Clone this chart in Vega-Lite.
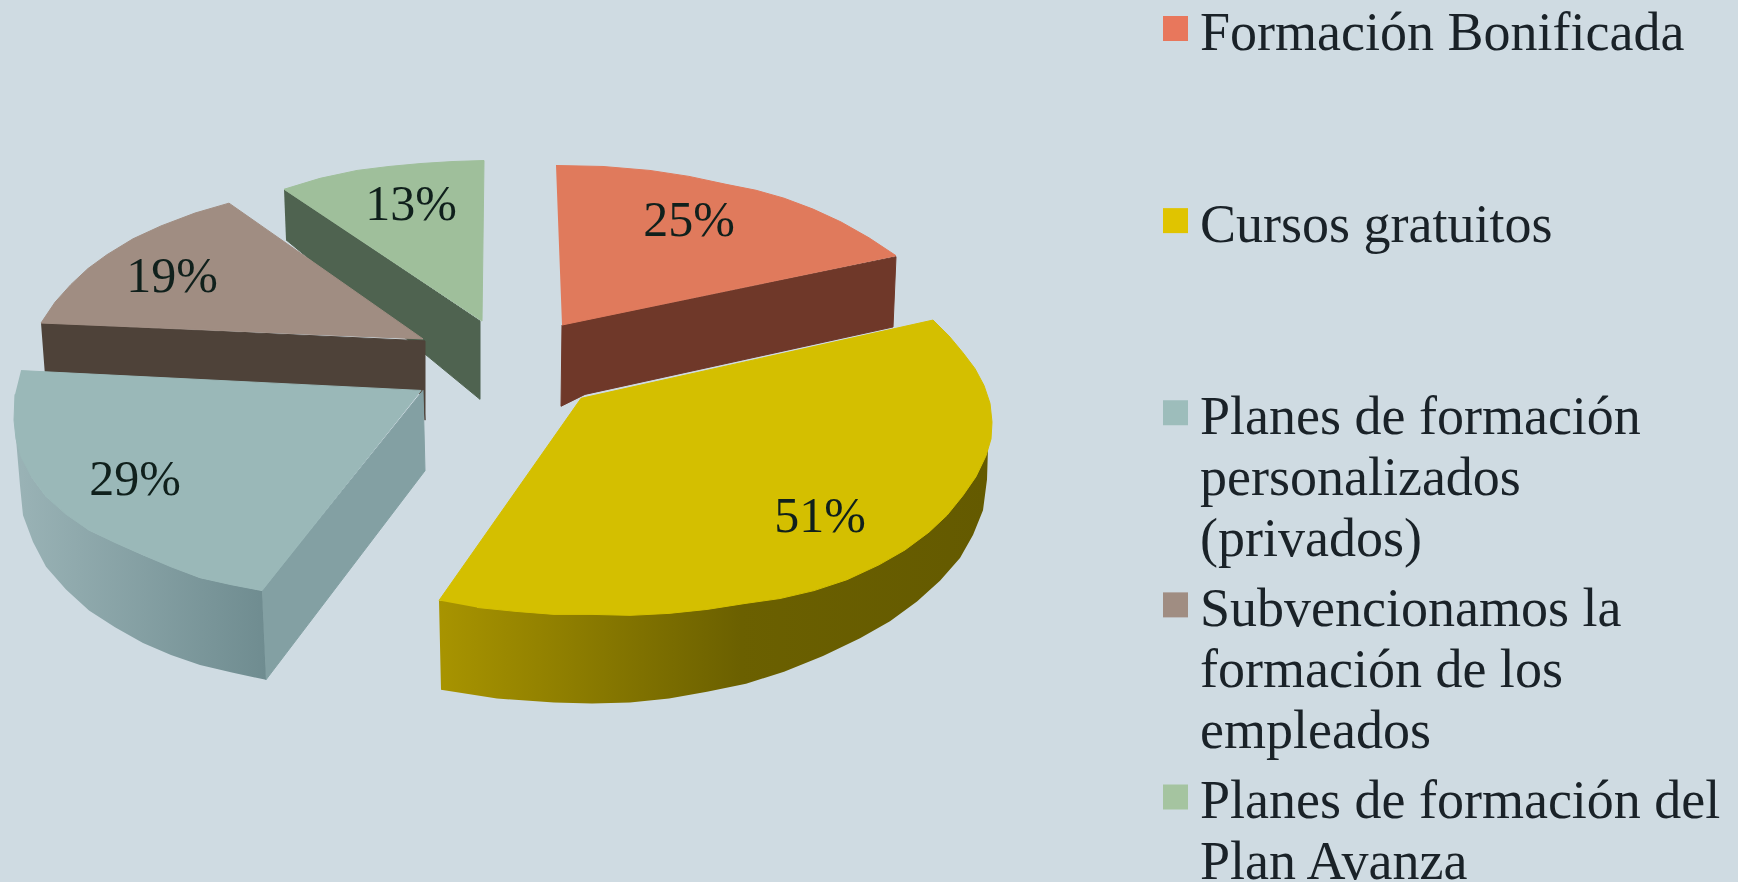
{"$schema":"https://vega.github.io/schema/vega-lite/v6.json","width":1738,"height":882,"autosize":{"type":"fit","contains":"padding"},"padding":0,"background":"#cfdbe2","view":{"stroke":null},"datasets":{"faces":[
{"face":"avanza side","i":0,"x":-216,"y":264},{"face":"avanza side","i":1,"x":-20,"y":131},{"face":"avanza side","i":2,"x":-20,"y":52},{"face":"avanza side","i":3,"x":-214,"y":213},
{"face":"avanza top","i":0,"x":-216,"y":264},{"face":"avanza top","i":1,"x":-180,"y":275},{"face":"avanza top","i":2,"x":-143,"y":283},{"face":"avanza top","i":3,"x":-111,"y":287},{"face":"avanza top","i":4,"x":-79,"y":290},{"face":"avanza top","i":5,"x":-47,"y":292},{"face":"avanza top","i":6,"x":-16,"y":293},{"face":"avanza top","i":7,"x":-18,"y":131},{"face":"avanza top","i":8,"x":-216,"y":264},
{"face":"subv side","i":0,"x":-459,"y":129},{"face":"subv side","i":1,"x":-75,"y":111},{"face":"subv side","i":2,"x":-75,"y":31},{"face":"subv side","i":3,"x":-77,"y":58},{"face":"subv side","i":4,"x":-455,"y":76},
{"face":"subv top","i":0,"x":-459,"y":129},{"face":"subv top","i":1,"x":-445,"y":150},{"face":"subv top","i":2,"x":-429,"y":168},{"face":"subv top","i":3,"x":-412,"y":184},{"face":"subv top","i":4,"x":-393,"y":198},{"face":"subv top","i":5,"x":-367,"y":214},{"face":"subv top","i":6,"x":-339,"y":227},{"face":"subv top","i":7,"x":-305,"y":240},{"face":"subv top","i":8,"x":-271,"y":250},{"face":"subv top","i":9,"x":-77,"y":113},{"face":"subv top","i":10,"x":-459,"y":129},
{"face":"priv right","i":0,"x":-77,"y":61},{"face":"priv right","i":1,"x":-75,"y":-20},{"face":"priv right","i":2,"x":-234,"y":-231},{"face":"priv right","i":3,"x":-238,"y":-141},{"face":"priv right","i":4,"x":-77,"y":61},
{"face":"priv outer","i":0,"x":-484,"y":12},{"face":"priv outer","i":1,"x":-468,"y":-27},{"face":"priv outer","i":2,"x":-454,"y":-46},{"face":"priv outer","i":3,"x":-411,"y":-80},{"face":"priv outer","i":4,"x":-357,"y":-105},{"face":"priv outer","i":5,"x":-300,"y":-128},{"face":"priv outer","i":6,"x":-238,"y":-141},{"face":"priv outer","i":7,"x":-234,"y":-231},{"face":"priv outer","i":8,"x":-267,"y":-224},{"face":"priv outer","i":9,"x":-300,"y":-216},{"face":"priv outer","i":10,"x":-329,"y":-206},{"face":"priv outer","i":11,"x":-357,"y":-194},{"face":"priv outer","i":12,"x":-385,"y":-178},{"face":"priv outer","i":13,"x":-411,"y":-161},{"face":"priv outer","i":14,"x":-434,"y":-140},{"face":"priv outer","i":15,"x":-454,"y":-117},{"face":"priv outer","i":16,"x":-467,"y":-92},{"face":"priv outer","i":17,"x":-477,"y":-65},{"face":"priv outer","i":18,"x":-480,"y":-35},
{"face":"priv top","i":0,"x":-479,"y":81},{"face":"priv top","i":1,"x":-79,"y":61},{"face":"priv top","i":2,"x":-238,"y":-141},{"face":"priv top","i":3,"x":-269,"y":-135},{"face":"priv top","i":4,"x":-300,"y":-128},{"face":"priv top","i":5,"x":-329,"y":-117},{"face":"priv top","i":6,"x":-357,"y":-105},{"face":"priv top","i":7,"x":-384,"y":-93},{"face":"priv top","i":8,"x":-411,"y":-80},{"face":"priv top","i":9,"x":-434,"y":-64},{"face":"priv top","i":10,"x":-454,"y":-46},{"face":"priv top","i":11,"x":-468,"y":-27},{"face":"priv top","i":12,"x":-479,"y":-6},{"face":"priv top","i":13,"x":-484,"y":12},{"face":"priv top","i":14,"x":-486,"y":31},{"face":"priv top","i":15,"x":-485,"y":57},
{"face":"bonif side","i":0,"x":62,"y":127},{"face":"bonif side","i":1,"x":396,"y":196},{"face":"bonif side","i":2,"x":393,"y":125},{"face":"bonif side","i":3,"x":85,"y":57},{"face":"bonif side","i":4,"x":61,"y":45},{"face":"bonif side","i":5,"x":62,"y":127},
{"face":"bonif top","i":0,"x":56,"y":288},{"face":"bonif top","i":1,"x":103,"y":287},{"face":"bonif top","i":2,"x":150,"y":283},{"face":"bonif top","i":3,"x":189,"y":277},{"face":"bonif top","i":4,"x":226,"y":269},{"face":"bonif top","i":5,"x":256,"y":263},{"face":"bonif top","i":6,"x":284,"y":255},{"face":"bonif top","i":7,"x":313,"y":244},{"face":"bonif top","i":8,"x":341,"y":231},{"face":"bonif top","i":9,"x":369,"y":215},{"face":"bonif top","i":10,"x":396,"y":197},{"face":"bonif top","i":11,"x":62,"y":127},
{"face":"gratis side","i":0,"x":-61,"y":-151},{"face":"gratis side","i":1,"x":92,"y":-160},{"face":"gratis side","i":2,"x":245,"y":-150},{"face":"gratis side","i":3,"x":379,"y":-110},{"face":"gratis side","i":4,"x":463,"y":-40},{"face":"gratis side","i":5,"x":488,"y":3},{"face":"gratis side","i":6,"x":487,"y":-29},{"face":"gratis side","i":7,"x":483,"y":-60},{"face":"gratis side","i":8,"x":473,"y":-85},{"face":"gratis side","i":9,"x":460,"y":-108},{"face":"gratis side","i":10,"x":440,"y":-131},{"face":"gratis side","i":11,"x":417,"y":-152},{"face":"gratis side","i":12,"x":390,"y":-172},{"face":"gratis side","i":13,"x":360,"y":-189},{"face":"gratis side","i":14,"x":323,"y":-207},{"face":"gratis side","i":15,"x":284,"y":-223},{"face":"gratis side","i":16,"x":246,"y":-235},{"face":"gratis side","i":17,"x":207,"y":-243},{"face":"gratis side","i":18,"x":169,"y":-250},{"face":"gratis side","i":19,"x":130,"y":-254},{"face":"gratis side","i":20,"x":92,"y":-255},{"face":"gratis side","i":21,"x":54,"y":-254},{"face":"gratis side","i":22,"x":-3,"y":-250},{"face":"gratis side","i":23,"x":-59,"y":-241},
{"face":"gratis top","i":0,"x":-61,"y":-151},{"face":"gratis top","i":1,"x":81,"y":53},{"face":"gratis top","i":2,"x":433,"y":132},{"face":"gratis top","i":3,"x":449,"y":116},{"face":"gratis top","i":4,"x":463,"y":99},{"face":"gratis top","i":5,"x":475,"y":83},{"face":"gratis top","i":6,"x":484,"y":66},{"face":"gratis top","i":7,"x":490,"y":48},{"face":"gratis top","i":8,"x":492,"y":29},{"face":"gratis top","i":9,"x":491,"y":12},{"face":"gratis top","i":10,"x":486,"y":-5},{"face":"gratis top","i":11,"x":476,"y":-26},{"face":"gratis top","i":12,"x":463,"y":-45},{"face":"gratis top","i":13,"x":447,"y":-65},{"face":"gratis top","i":14,"x":429,"y":-82},{"face":"gratis top","i":15,"x":405,"y":-100},{"face":"gratis top","i":16,"x":379,"y":-115},{"face":"gratis top","i":17,"x":347,"y":-130},{"face":"gratis top","i":18,"x":314,"y":-141},{"face":"gratis top","i":19,"x":280,"y":-149},{"face":"gratis top","i":20,"x":245,"y":-154},{"face":"gratis top","i":21,"x":207,"y":-160},{"face":"gratis top","i":22,"x":169,"y":-164},{"face":"gratis top","i":23,"x":130,"y":-166},{"face":"gratis top","i":24,"x":92,"y":-165},{"face":"gratis top","i":25,"x":54,"y":-165},{"face":"gratis top","i":26,"x":16,"y":-162},{"face":"gratis top","i":27,"x":-23,"y":-158}
],"slices":[
{"category":"Formación Bonificada","text":"Formación Bonificada","value":25,"label":"25%","x":189,"y":232},
{"category":"Cursos gratuitos","text":"Cursos gratuitos","value":51,"label":"51%","x":320,"y":-67},
{"category":"Planes de formación personalizados (privados)","text":"Planes de formación\npersonalizados\n(privados)","value":29,"label":"29%","x":-365,"y":-29},
{"category":"Subvencionamos la formación de los empleados","text":"Subvencionamos la\nformación de los\nempleados","value":19,"label":"19%","x":-328,"y":175},
{"category":"Planes de formación del Plan Avanza","text":"Planes de formación del\nPlan Avanza","value":13,"label":"13%","x":-89,"y":248}
]},
"layer":[
{"data":{"name":"faces"},
"encoding":{"x":{"field":"x","type":"quantitative","axis":null,"scale":{"domain":[-500,1238],"nice":false,"zero":false}},"y":{"field":"y","type":"quantitative","axis":null,"scale":{"domain":[-427,455],"nice":false,"zero":false}},"order":{"field":"i","type":"ordinal"},"detail":{"field":"face"}},
"layer":[
{"transform":[{"filter":"indexof(['avanza side','avanza top','subv side','subv top','priv right'],datum.face)>=0"}],"mark":{"type":"line","filled":true,"strokeWidth":1},"encoding":{"fill":{"field":"face","type":"nominal","legend":null,"scale":{"domain":["avanza side","avanza top","subv side","subv top","priv right","priv top","bonif side","bonif top","gratis top"],"range":["#4f6350","#9fbf9b","#4e4239","#a08d82","#83a0a3","#9ab8b8","#6f3829","#e07a5c","#d4bf00"]}},"stroke":{"field":"face","type":"nominal","legend":null,"scale":{"domain":["avanza side","avanza top","subv side","subv top","priv right","priv top","bonif side","bonif top","gratis top"],"range":["#4f6350","#9fbf9b","#4e4239","#a08d82","#83a0a3","#9ab8b8","#6f3829","#e07a5c","#d4bf00"]}}}},
{"transform":[{"filter":"datum.face=='priv outer'"}],"mark":{"type":"line","strokeWidth":0,"fill":{"gradient":"linear","x1":0,"y1":0,"x2":1,"y2":0,"stops":[{"offset":0,"color":"#9ab3b6"},{"offset":1,"color":"#6f8c90"}]}}},
{"transform":[{"filter":"indexof(['priv top','bonif side','bonif top'],datum.face)>=0"}],"mark":{"type":"line","filled":true,"strokeWidth":1},"encoding":{"fill":{"field":"face","type":"nominal","legend":null},"stroke":{"field":"face","type":"nominal","legend":null}}},
{"transform":[{"filter":"datum.face=='gratis side'"}],"mark":{"type":"line","strokeWidth":0,"fill":{"gradient":"linear","x1":0,"y1":0,"x2":1,"y2":0,"stops":[{"offset":0,"color":"#a89400"},{"offset":0.55,"color":"#6b6000"},{"offset":1,"color":"#645a00"}]}}},
{"transform":[{"filter":"datum.face=='gratis top'"}],"mark":{"type":"line","filled":true,"strokeWidth":1},"encoding":{"fill":{"field":"face","type":"nominal","legend":null},"stroke":{"field":"face","type":"nominal","legend":null}}}
]},
{"data":{"name":"slices"},"mark":{"type":"text","font":"Liberation Serif","fontSize":50,"color":"#10201c","align":"center","baseline":"middle"},
"encoding":{"x":{"field":"x","type":"quantitative","axis":null,"scale":{"domain":[-500,1238],"nice":false,"zero":false}},"y":{"field":"y","type":"quantitative","axis":null,"scale":{"domain":[-427,455],"nice":false,"zero":false}},"text":{"field":"label"}}},
{"data":{"name":"slices"},"mark":{"type":"point","shape":"square","filled":true,"size":625,"opacity":1},
"encoding":{"x":{"value":1175.5},"y":{"field":"category","type":"nominal","axis":null,"sort":null,"scale":{"type":"point","padding":0,"range":[28.5,797]}},"color":{"field":"category","type":"nominal","legend":null,"sort":null,"scale":{"range":["#e8775c","#e0c400","#9dbdbb","#a08d82","#a5c4a0"]}}}},
{"data":{"name":"slices"},"mark":{"type":"text","font":"Liberation Serif","fontSize":54,"lineHeight":61,"lineBreak":"\n","color":"#1a2228","align":"left","baseline":"alphabetic","dy":21},
"encoding":{"x":{"value":1200},"y":{"field":"category","type":"nominal","axis":null,"sort":null,"scale":{"type":"point","padding":0,"range":[28.5,797]}},"text":{"field":"text"}}}
],
"resolve":{"scale":{"x":"independent","y":"independent","color":"independent"}}}
